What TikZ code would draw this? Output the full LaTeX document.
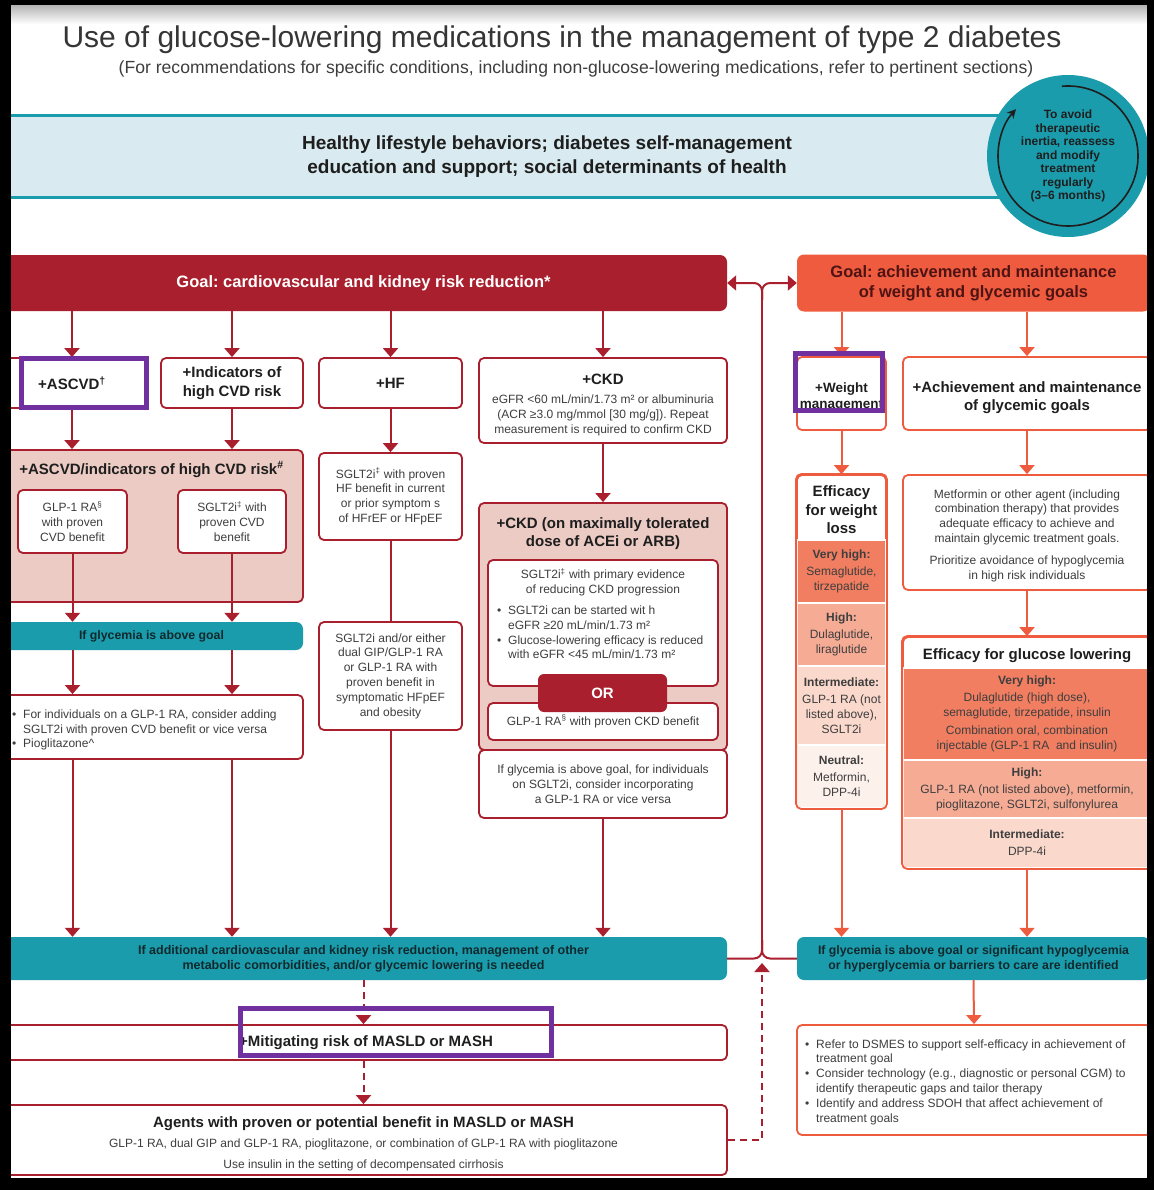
\documentclass[tikz,border=0pt]{standalone}
\usepackage{fontspec}
\setmainfont{Liberation Sans}
\frenchspacing
\usetikzlibrary{arrows.meta,positioning}
\definecolor{gred}{HTML}{A91F2D}
\definecolor{gorange}{HTML}{EF5B3E}
\definecolor{gmaroon}{HTML}{4E1414}
\definecolor{gteal}{HTML}{1B9CAC}
\definecolor{gtealtext}{HTML}{10292D}
\definecolor{gsky}{HTML}{D9EBF0}
\definecolor{gpink}{HTML}{EBCBC3}
\definecolor{gtext}{HTML}{3E3E3E}
\definecolor{ghead}{HTML}{1E1E1E}
\definecolor{gpurple}{HTML}{7030A0}
\definecolor{bandvh}{HTML}{F17E61}
\definecolor{bandhi}{HTML}{F6AB95}
\definecolor{bandmid}{HTML}{FAD8CC}
\definecolor{bandneu}{HTML}{FDF1EC}
\newcommand{\gbul}{\makebox[11pt][l]{\textbullet}}

\begin{document}
\begin{tikzpicture}[
    x=1pt, y=-1pt,
    redbox/.style={rectangle, draw=gred, fill=white, line width=1.8pt, rounded corners=5pt, align=center, text=gtext, font=\fontsize{12}{14.8}\selectfont},
    orbox/.style={redbox, draw=gorange},
    pinkbox/.style={redbox, fill=gpink},
    tealbar/.style={rectangle, fill=gteal, rounded corners=7pt, align=center, text=gtealtext, font=\bfseries\fontsize{12.3}{15}\selectfont},
    goalbar/.style={rectangle, rounded corners=7pt, align=center, font=\bfseries\fontsize{16.5}{20}\selectfont},
    head/.style={font=\bfseries\fontsize{15}{18.5}\selectfont, text=ghead},
    body/.style={font=\fontsize{12}{14.8}\selectfont, text=gtext, align=left, inner sep=0pt},
    band/.style={rectangle, draw=white, line width=1.2pt, align=center, inner sep=0pt, text=gtext, font=\fontsize{12}{15}\selectfont},
    flow/.style={-{Triangle[width=15pt,length=9pt]}, line width=2pt, gred},
    oflow/.style={flow, gorange},
    dflow/.style={flow, dash pattern=on 7pt off 5pt},
    hilite/.style={rectangle, draw=gpurple, line width=4.5pt}
]
    \useasboundingbox (0,0) rectangle (1154,1190);
    \clip (0,0) rectangle (1154,1190);
    \fill[white] (0,0) rectangle (1154,1190);
    \shade[top color=black!30, bottom color=white] (11,5) rectangle (1147,24);

    % Title
    \node[font=\fontsize{30}{34}\selectfont, text=ghead!90] (title) at (562,40) {Use of glucose-lowering medications in the management of type 2 diabetes};
    \node[font=\fontsize{17.6}{20}\selectfont, text=gtext] (subtitle) at (576,69) {(For recommendations for specific conditions, including non-glucose-lowering medications, refer to pertinent sections)};

    % Lifestyle band
    \node[rectangle, fill=gsky, minimum width=1072pt, minimum height=81pt, align=center, text=ghead, font=\bfseries\fontsize{19}{24}\selectfont] (lifeband) at (547,156.5) {Healthy lifestyle behaviors; diabetes self-management\\education and support; social determinants of health};
    \draw[gteal, line width=3pt] (lifeband.north west) -- (lifeband.north east);
    \draw[gteal, line width=3pt] (lifeband.south west) -- (lifeband.south east);

    % Reassess circle
    \node[circle, fill=gteal, minimum size=162pt, inner sep=0pt, align=center, text=ghead, font=\bfseries\fontsize{12}{13.5}\selectfont] (reassess) at (1068,156) {To avoid\\therapeutic\\inertia, reassess\\and modify\\treatment\\regularly\\(3--6 months)};
    \draw[line width=1.6pt, ghead, -{Stealth[length=9pt,width=9pt]}] (reassess.center) ++(-95:70) arc[start angle=-95, end angle=222, radius=70];

    % Goals
    \node[goalbar, fill=gred, text=white, minimum width=727pt, minimum height=56pt] (goalcv) at (363.5,283) {Goal: cardiovascular and kidney risk reduction*};
    \node[goalbar, fill=gorange, text=gmaroon, minimum width=353pt, minimum height=57pt] (goalwt) at (973.5,283) {Goal: achievement and maintenance\\of weight and glycemic goals};

    % Cardiovascular and kidney column
    \node[redbox, head, minimum width=150pt, minimum height=50pt] (ascvd) at (72,383) {+ASCVD\textsuperscript{†}};
    \node[redbox, head, minimum width=142pt, minimum height=50pt] (indic) at (232,383) {+Indicators of\\high CVD risk};
    \node[redbox, head, minimum width=143pt, minimum height=50pt] (hf) at (390.5,383) {+HF};
    \node[redbox, minimum width=248pt, minimum height=85pt] (ckd) at (603,400.5) {};
    \node[body, align=center] (ckdtext) at (603,405) {{\bfseries\fontsize{15}{17}\selectfont\color{ghead}+CKD}\\[4pt]eGFR <60 mL/min/1.73 m² or albuminuria\\(ACR ≥3.0 mg/mmol [30 mg/g]). Repeat\\measurement is required to confirm CKD};

    \node[pinkbox, minimum width=303pt, minimum height=152pt] (cvgroup) at (151.5,526) {};
    \node[head, below=9pt of cvgroup.north] (cvhead) {+ASCVD/indicators of high CVD risk\textsuperscript{\#}};
    \node[redbox, minimum width=109pt, minimum height=63pt] (glp1cv) at (72.5,521.5) {GLP-1 RA\textsuperscript{§}\\with proven\\CVD benefit};
    \node[redbox, minimum width=108pt, minimum height=63pt] (sgltcv) at (232,521.5) {SGLT2i\textsuperscript{‡} with\\proven CVD\\benefit};
    \node[tealbar, minimum width=303pt, minimum height=28pt] (glyctealL) at (151.5,636) {If glycemia is above goal};
    \node[redbox, minimum width=303pt, minimum height=64pt] (cvadd) at (151.5,727) {};
    \node[body, anchor=west] (cvaddtext) at (12,730) {\gbul For individuals on a GLP-1 RA, consider adding\\\hspace*{11pt}SGLT2i with proven CVD benefit or vice versa\\\gbul Pioglitazone\textasciicircum};

    \node[redbox, minimum width=143pt, minimum height=87pt] (hfsglt) at (390.5,496.5) {SGLT2i\textsuperscript{‡} with proven\\HF benefit in current\\or prior symptom s\\of HFrEF or HFpEF};
    \node[redbox, minimum width=143pt, minimum height=108pt] (hfgip) at (390.5,676) {SGLT2i and/or either\\dual GIP/GLP-1 RA\\or GLP-1 RA with\\proven benefit in\\symptomatic HFpEF\\and obesity};

    \node[pinkbox, minimum width=248pt, minimum height=247pt] (ckdpink) at (603,626.5) {};
    \node[head, align=center, font=\bfseries\fontsize{15}{17.5}\selectfont, below=12pt of ckdpink.north] (ckdhead) {+CKD (on maximally tolerated\\dose of ACEi or ARB)};
    \node[redbox, minimum width=230pt, minimum height=126pt] (ckdsglt) at (603,623) {};
    \node[body, align=center] (ckdsglttext) at (603,582) {SGLT2i\textsuperscript{‡} with primary evidence\\of reducing CKD progression};
    \node[body, anchor=west] (ckdbullets) at (497,632.5) {\gbul SGLT2i can be started wit h\\\hspace*{11pt}eGFR ≥20 mL/min/1.73 m²\\\gbul Glucose-lowering efficacy is reduced\\\hspace*{11pt}with eGFR <45 mL/min/1.73 m²};
    \node[redbox, minimum width=230pt, minimum height=37pt] (ckdglp) at (603,721.5) {\raisebox{-3pt}{GLP-1 RA\textsuperscript{§} with proven CKD benefit}};
    \node[rectangle, fill=gred, rounded corners=6pt, minimum width=129pt, minimum height=38pt, text=white, font=\bfseries\fontsize{15}{18}\selectfont] (ckdor) at (602.5,693) {OR};
    \node[redbox, minimum width=248pt, minimum height=68pt] (ckdglyc) at (603,784) {If glycemia is above goal, for individuals\\on SGLT2i, consider incorporating\\a GLP-1 RA or vice versa};

    % Lower left
    \node[tealbar, font=\bfseries\fontsize{12.5}{15}\selectfont, minimum width=727pt, minimum height=43pt] (lowteal) at (363.5,958.5) {If additional cardiovascular and kidney risk reduction, management of other\\metabolic comorbidities, and/or glycemic lowering is needed};
    \node[redbox, head, minimum width=727pt, minimum height=35pt] (masld) at (363.5,1042.5) {\raisebox{-3pt}{\hspace*{5pt}+Mitigating risk of MASLD or MASH}};
    \node[redbox, minimum width=727pt, minimum height=70pt] (agents) at (363.5,1140) {};
    \node[body, align=center] (agentstext) at (363.5,1144) {{\bfseries\fontsize{15}{17}\selectfont\color{ghead}Agents with proven or potential benefit in MASLD or MASH}\\[5pt]GLP-1 RA, dual GIP and GLP-1 RA, pioglitazone, or combination of GLP-1 RA with pioglitazone\\[6pt]Use insulin in the setting of decompensated cirrhosis};

    % Weight and glycemic column
    \node[orbox, minimum width=89pt, minimum height=73pt] (weight) at (841.5,393.5) {};
    \node[head, align=center, inner sep=0pt, font=\bfseries\fontsize{13.5}{16}\selectfont] (weighttext) at (841.5,397) {+Weight\\management};
    \node[orbox, minimum width=248pt, minimum height=73pt] (achieve) at (1027,393.5) {};
    \node[head, align=center, inner sep=0pt] (achievetext) at (1027,397.5) {+Achievement and maintenance\\of glycemic goals};

    \node[orbox, minimum width=89pt, minimum height=333pt] (effwt) at (841.5,641.5) {};
    \node[head, align=center, below=8pt of effwt.north] (effwthead) {Efficacy\\for weight\\loss};
    \node[band, fill=bandvh, minimum width=89pt, minimum height=63pt] (wtvh) at (841.5,571.5) {\textbf{Very high:}\\[2pt]Semaglutide,\\tirzepatide};
    \node[band, fill=bandhi, minimum width=89pt, minimum height=63pt] (wthi) at (841.5,634.5) {\textbf{High:}\\[2pt]Dulaglutide,\\liraglutide};
    \node[band, fill=bandmid, minimum width=89pt, minimum height=79pt] (wtmid) at (841.5,705.5) {\textbf{Intermediate:}\\[2pt]GLP-1 RA (not\\listed above),\\SGLT2i};
    \node[band, fill=bandneu, minimum width=89pt, minimum height=63pt] (wtneu) at (841.5,776.5) {\textbf{Neutral:}\\[2pt]Metformin,\\DPP-4i};
    \draw[gorange, line width=1.8pt, rounded corners=5pt] (effwt.north west) rectangle (effwt.south east);

    \node[orbox, minimum width=248pt, minimum height=115pt] (metf) at (1027,532.5) {};
    \node[body, align=center] (metftext) at (1027,535.5) {Metformin or other agent (including\\combination therapy) that provides\\adequate efficacy to achieve and\\maintain glycemic treatment goals.\\[7pt]Prioritize avoidance of hypoglycemia\\in high risk individuals};

    \node[orbox, minimum width=248pt, minimum height=231pt] (effgl) at (1027,752.5) {};
    \node[head, below=9pt of effgl.north] (effglhead) {Efficacy for glucose lowering};
    \node[band, fill=bandvh, minimum width=248pt, minimum height=92pt] (glvh) at (1027,714) {\textbf{Very high:}\\[2pt]Dulaglutide (high dose),\\semaglutide, tirzepatide, insulin\\[3pt]Combination oral, combination\\injectable (GLP-1 RA\ \ and insulin)};
    \node[band, fill=bandhi, minimum width=248pt, minimum height=58pt] (glhi) at (1027,789) {\textbf{High:}\\[2pt]GLP-1 RA (not listed above), metformin,\\pioglitazone, SGLT2i, sulfonylurea};
    \node[band, fill=bandmid, minimum width=248pt, minimum height=50pt] (glmid) at (1027,843) {\textbf{Intermediate:}\\[2pt]DPP-4i};
    \draw[gorange, line width=1.8pt, rounded corners=5pt] (effgl.north west) rectangle (effgl.south east);

    \node[tealbar, minimum width=353pt, minimum height=43pt] (rteal) at (973.5,958.5) {If glycemia is above goal or significant hypoglycemia\\or hyperglycemia or barriers to care are identified};
    \node[orbox, minimum width=354pt, minimum height=110pt] (rsupport) at (974,1080) {};
    \node[body, anchor=west] (rsupporttext) at (805,1082) {\gbul Refer to DSMES to support self-efficacy in achievement of\\\hspace*{11pt}treatment goal\\\gbul Consider technology (e.g., diagnostic or personal CGM) to\\\hspace*{11pt}identify therapeutic gaps and tailor therapy\\\gbul Identify and address SDOH that affect achievement of\\\hspace*{11pt}treatment goals};

    % Junction between the two goals
    \coordinate (jtop) at (762,283);
    \coordinate (jmid) at (762,300);
    \coordinate (jlow) at (762,940);
    \coordinate (jbot) at (762,958.5);
    \coordinate (jup) at (762,963);
    \draw[flow, rounded corners=8pt] (jmid) -- (jtop) -- (goalcv.east);
    \draw[flow, rounded corners=8pt] (jmid) -- (jtop) -- (goalwt.west);
    \draw[line width=2pt, gred] (jmid) -- (jlow);
    \draw[line width=2pt, gred, rounded corners=8pt] (jlow) -- (jbot) -- (lowteal.east);
    \draw[line width=2pt, gred, rounded corners=8pt] (jlow) -- (jbot) -- (rteal.west);

    % Flows, cardiovascular side
    \draw[flow] (goalcv.south -| ascvd) -- (ascvd.north);
    \draw[flow] (goalcv.south -| indic) -- (indic.north);
    \draw[flow] (goalcv.south -| hf) -- (hf.north);
    \draw[flow] (goalcv.south -| ckd) -- (ckd.north);
    \draw[flow] (ascvd.south) -- (ascvd.south |- cvgroup.north);
    \draw[flow] (indic.south) -- (indic.south |- cvgroup.north);
    \draw[flow] (hf.south) -- (hfsglt.north);
    \draw[flow] (ckd.south) -- (ckdpink.north);
    \draw[flow] (glp1cv.south) -- (glp1cv.south |- glyctealL.north);
    \draw[flow] (sgltcv.south) -- (sgltcv.south |- glyctealL.north);
    \draw[flow] (glyctealL.south -| glp1cv) -- (cvadd.north -| glp1cv);
    \draw[flow] (glyctealL.south -| sgltcv) -- (cvadd.north -| sgltcv);
    \draw[flow] (cvadd.south -| glp1cv) -- (lowteal.north -| glp1cv);
    \draw[flow] (cvadd.south -| sgltcv) -- (lowteal.north -| sgltcv);
    \draw[line width=2pt, gred] (hfsglt.south) -- (hfgip.north);
    \draw[flow] (hfgip.south) -- (lowteal.north -| hfgip);
    \draw[flow] (ckdglyc.south) -- (lowteal.north -| ckdglyc);
    \draw[dflow] (lowteal.south) -- (masld.north);
    \draw[dflow] (masld.south) -- (agents.north);
    \draw[dflow] (agents.east) -- (agents.east -| jup) -- (jup);

    % Flows, weight and glycemic side
    \draw[oflow] (goalwt.south -| weight) -- (weight.north);
    \draw[oflow] (goalwt.south -| achieve) -- (achieve.north);
    \draw[oflow] (weight.south) -- (effwt.north);
    \draw[oflow] (achieve.south) -- (metf.north);
    \draw[oflow] (metf.south) -- (effgl.north);
    \draw[oflow] (effwt.south) -- (rteal.north -| effwt);
    \draw[oflow] (effgl.south) -- (rteal.north -| effgl);
    \draw[oflow] (rteal.south) -- (rsupport.north);

    % Highlight marks
    \node[hilite, minimum width=125pt, minimum height=49pt] (markascvd) at (84,383) {};
    \node[hilite, minimum width=87pt, minimum height=57pt] (markweight) at (839,382) {};
    \node[hilite, minimum width=311pt, minimum height=47pt] (markmasld) at (396,1032) {};

    % Screen frame
    \fill[black] (0,0) rectangle (11,1190);
    \fill[black] (1147,0) rectangle (1154,1190);
    \fill[black] (0,0) rectangle (1154,5);
    \fill[black] (0,1178) rectangle (1154,1190);
\end{tikzpicture}
\end{document}
